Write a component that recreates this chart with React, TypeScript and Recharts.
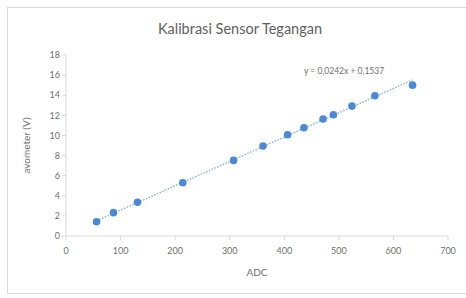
import { ScatterChart, Scatter, XAxis, YAxis, Label } from "recharts"

const adc = [56, 87, 131, 214, 307, 361, 406, 436, 471, 490, 524, 566, 635]
const volts = [1.42, 2.32, 3.35, 5.3, 7.52, 8.95, 10.07, 10.77, 11.63, 12.06, 12.92, 13.95, 15.0]

// trendline end points (y = 0,0242x + 0,1537)
const trendX = [56, 635]
const trendY = [1.51, 15.52]

const xTicks = [0, 100, 200, 300, 400, 500, 600, 700]
const yTicks = [0, 2, 4, 6, 8, 10, 12, 14, 16, 18]

const points = adc.map((x, i) => ({ x, y: volts[i] }))
const trend = trendX.map((x, i) => ({ x, y: trendY[i] }))

const FONT = "Lato, 'Open Sans', sans-serif"
const GRAY = "#6f6f6f"
const BLUE = "#4a89d6"

const Dot = (props: any) => <circle cx={props.cx} cy={props.cy} r={3.8} fill={BLUE} />

export default function App() {
  return (
    <div
      style={{
        position: "fixed",
        left: 0,
        top: 0,
        width: 466,
        height: 298,
        overflow: "hidden",
        background: "#fff",
        fontFamily: FONT,
      }}
    >
      <div
        style={{
          position: "absolute",
          left: 7,
          top: 7,
          width: 470,
          height: 285,
          border: "1px solid #d9d9d9",
        }}
      />
      <div
        style={{
          position: "absolute",
          left: 14,
          width: 452,
          top: 20,
          textAlign: "center",
          fontSize: 14.5,
          color: "#5f5f5f",
        }}
      >
        Kalibrasi Sensor Tegangan
      </div>
      <div
        style={{
          position: "absolute",
          left: 304,
          top: 66,
          fontSize: 8.5,
          color: GRAY,
        }}
      >
        y = 0,0242x + 0,1537
      </div>
      <div style={{ position: "absolute", left: 0, top: 0 }}>
        <ScatterChart width={466} height={298} margin={{ top: 55, right: 18, bottom: 16, left: 0 }}>
          <XAxis
            type="number"
            dataKey="x"
            domain={[0, 700]}
            allowDataOverflow
            ticks={xTicks}
            stroke="#d9d9d9"
            tickSize={4}
            height={46}
            tick={{ fill: GRAY, fontSize: 9, fontFamily: FONT, dy: 6 }}
          >
            <Label value="ADC" position="insideBottom" offset={6} fill={GRAY} fontSize={10} fontFamily={FONT} />
          </XAxis>
          <YAxis
            type="number"
            dataKey="y"
            domain={[0, 18]}
            allowDataOverflow
            ticks={yTicks}
            stroke="#d9d9d9"
            tickSize={4}
            width={66}
            tick={{ fill: GRAY, fontSize: 9, fontFamily: FONT }}
          >
            <Label
              value="avometer (V)"
              angle={-90}
              position="insideLeft"
              offset={26}
              style={{ textAnchor: "middle" }}
              fill={GRAY}
              fontSize={10}
              fontFamily={FONT}
            />
          </YAxis>
          <Scatter
            data={trend}
            line={{ stroke: "#86b4e6", strokeWidth: 1.5, strokeDasharray: "1.5 1.5" }}
            shape={() => <g />}
            isAnimationActive={false}
          />
          <Scatter data={points} fill={BLUE} shape={Dot} isAnimationActive={false} />
        </ScatterChart>
      </div>
    </div>
  )
}
